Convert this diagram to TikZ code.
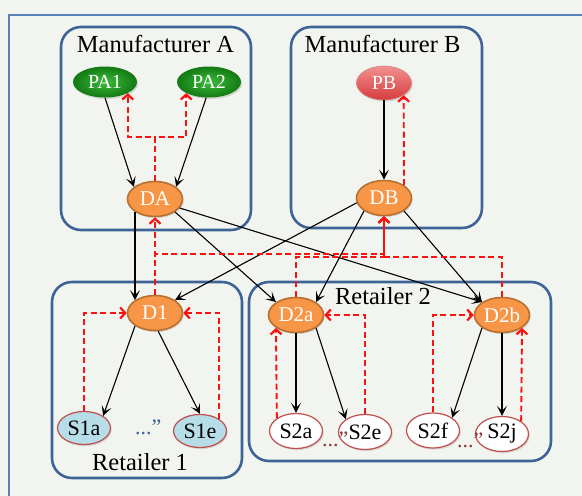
\documentclass[tikz,border=0pt]{standalone}
\usepackage{fontspec}
\setmainfont{Liberation Serif}
\usetikzlibrary{arrows.meta,shapes.geometric,shadows}

\definecolor{bg}{HTML}{F2F4F0}
\definecolor{boxblue}{HTML}{3E6497}
\definecolor{framecol}{HTML}{5A80B8}
\definecolor{orangefill}{HTML}{F79646}
\definecolor{orangeline}{HTML}{B8702E}
\definecolor{sblue}{HTML}{B7DDE8}
\definecolor{sred}{HTML}{C0504D}
\definecolor{dotred}{HTML}{8E3A3A}
\definecolor{dotblue}{HTML}{3D6399}
\definecolor{reqred}{HTML}{FF1010}
\definecolor{pgin}{HTML}{3DBA3D}
\definecolor{pgout}{HTML}{127A12}
\definecolor{pbtop}{HTML}{F29090}
\definecolor{pbbot}{HTML}{D63C3C}

\begin{document}
\begin{tikzpicture}[x=1pt,y=-1pt,
  grp/.style={draw=boxblue,line width=2.6pt,rounded corners=20pt},
  grptitle/.style={anchor=base,font=\fontsize{24.5}{26}\selectfont},
  nbase/.style={ellipse,inner sep=0pt,
    drop shadow={shadow xshift=1.2pt,shadow yshift=-1.6pt,opacity=0.25}},
  dnode/.style={nbase,fill=orangefill,draw=orangeline,line width=1.6pt,
    minimum width=55pt,minimum height=35pt,text=white,
    font=\fontsize{21}{22}\selectfont},
  pgnode/.style={nbase,inner color=pgin,outer color=pgout,
    minimum width=64pt,minimum height=31pt,text=white,
    font=\fontsize{20}{21}\selectfont},
  pbnode/.style={nbase,top color=pbtop,bottom color=pbbot,draw=sred!70,line width=0.6pt,
    minimum width=55pt,minimum height=34pt,text=white,
    font=\fontsize{20}{21}\selectfont},
  snode/.style={nbase,fill=sblue,draw=sred,line width=1.2pt,
    minimum width=53pt,minimum height=33pt,text=black,
    font=\fontsize{22}{23}\selectfont},
  wnode/.style={snode,fill=white,minimum height=35pt},
  dots/.style={anchor=base west,inner sep=0pt,font=\fontsize{22}{23}\selectfont},
  blk/.style={draw=black,line width=1.1pt,-{Stealth[length=10pt,width=10pt,inset=5pt]}},
  req/.style={draw=reqred,line width=1.9pt,dash pattern=on 6pt off 3.5pt,
    -{Straight Barb[length=5pt,width=11pt,line width=2.2pt]}}
]
\useasboundingbox (0,0) rectangle (582,496);
\fill[bg] (0,0) rectangle (582,496);
\draw[framecol,line width=1.3pt] (9,496) -- (9,15) -- (582,15);

% group frames
\draw[grp] (61,27) rectangle (251,230);
\draw[grp] (291,27) rectangle (482,228);
\draw[grp] (52,282) rectangle (242,478);
\draw[grp] (249,282) rectangle (551,461);

\node[grptitle] (tA) at (155.5,52) {Manufacturer A};
\node[grptitle] (tB) at (382.5,52) {Manufacturer B};
\node[grptitle] (tR1) at (140,470) {Retailer 1};
\node[grptitle] (tR2) at (383,304) {Retailer 2};

% plants
\node[pgnode] (PA1) at (105,82) {PA1};
\node[pgnode] (PA2) at (209,82) {PA2};
\node[pbnode] (PB) at (384,83) {PB};

% distribution centres
\node[dnode] (DA) at (155,199) {DA};
\node[dnode] (DB) at (384,198) {DB};
\node[dnode] (D1) at (155,313) {D1};
\node[dnode] (D2a) at (296,315) {D2a};
\node[dnode] (D2b) at (502,315) {D2b};

% stores
\node[snode] (S1a) at (84,428) {S1a};
\node[snode] (S1e) at (200,431) {S1e};
\node[wnode] (S2a) at (296,431) {S2a};
\node[wnode] (S2e) at (365,432) {S2e};
\node[wnode] (S2f) at (433,430.5) {S2f};
\node[wnode] (S2j) at (502,434) {S2j};

\node[dots,text=dotblue] (e1) at (135,434) {...\symbol{34}};
\node[dots,text=dotred] (e2) at (322,446) {...\symbol{34}};
\node[dots,text=dotred] (e3) at (457,447) {...\symbol{34}};

% product flow
\draw[blk] (PA1.south) -- (DA.150);
\draw[blk] (PA2.-100) -- (DA.30);
\draw[blk] (PB.south) -- (DB.north);
\draw[blk] (DA.south west) -- (D1.north west);
\draw[blk] (DA.south east) -- (D2a.north west);
\draw[blk] (DA.-20) -- (D2b.north west);
\draw[blk] (DB.190) -- (D1.north east);
\draw[blk] (DB.south west) -- (D2a.north east);
\draw[blk] (DB.south east) -- (D2b.north west);
\draw[blk] (D1.south west) -- (S1a.north east);
\draw[blk] (D1.-80) -- (S1e.north);
\draw[blk] (D2a.south) -- (S2a.north);
\draw[blk] (D2a.south east) -- (S2e.north west);
\draw[blk] (D2b.south west) -- (S2f.north east);
\draw[blk] (D2b.south) -- (S2j.north);

% order flow
\coordinate (ja) at (155,137);
\coordinate (jb1) at (384,254);
\coordinate (jb2) at (384,257);
\draw[req] (DA.north) -- (ja) -| (PA1.south east);
\draw[req] (DA.north) -- (ja) -| (PA2.south west);
\draw[req] (DB.north east) -- (PB.south east);
\draw[req] (D1.north) -- (DA.south);
\draw[req] (D1.north) |- (jb1) -- (DB.south);
\draw[req] (D2a.north) |- (jb2) -- (DB.south);
\draw[req] (D2b.north) |- (jb2) -- (DB.south);
\draw[req] (S1a.north) |- (D1.west);
\draw[req] (S1e.north east) |- (D1.east);
\draw[req] (S2a.north west) -- (D2a.south west);
\draw[req] (S2e.north) |- (D2a.east);
\draw[req] (S2f.north) |- (D2b.west);
\draw[req] (S2j.north east) -- (D2b.south east);
\end{tikzpicture}
\end{document}
